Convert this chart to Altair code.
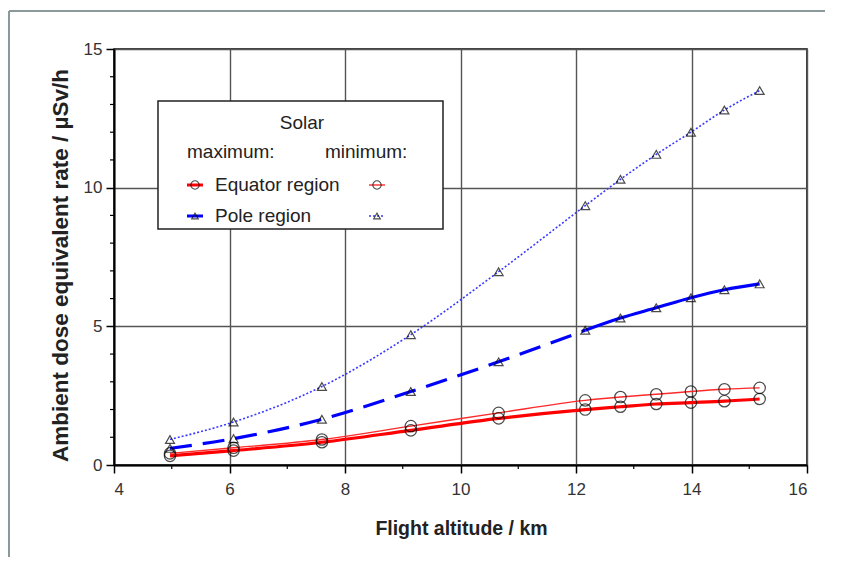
import altair as alt
import pandas as pd

# ---- data ----
alt_km = [4.97, 6.07, 7.6, 9.14, 10.66, 12.16, 12.77, 13.39, 13.99, 14.57, 15.18]
eq_max = [0.33, 0.52, 0.82, 1.25, 1.68, 2.0, 2.1, 2.2, 2.25, 2.3, 2.38]
eq_min = [0.42, 0.62, 0.92, 1.4, 1.88, 2.33, 2.45, 2.55, 2.65, 2.73, 2.78]
pole_max = [0.6, 0.95, 1.65, 2.65, 3.72, 4.86, 5.3, 5.67, 6.03, 6.32, 6.53]
pole_min = [0.92, 1.55, 2.83, 4.7, 6.97, 9.35, 10.3, 11.2, 12.0, 12.8, 13.5]
dashed_until = 12.16  # pole max curve is dashed up to here, solid beyond

x_major = [4, 6, 8, 10, 12, 14, 16]
x_minor = [5, 7, 9, 11, 13, 15]
y_major = [0, 5, 10, 15]
y_minor = [1, 2, 3, 4, 6, 7, 8, 9, 11, 12, 13, 14]

W, H = 693, 416
FONT = "Liberation Sans"

def frame(vals):
    return pd.DataFrame({"x": alt_km, "y": vals})

xs = alt.Scale(domain=[4, 16], nice=False)
ys = alt.Scale(domain=[0, 15], nice=False)

X = alt.X("x:Q", scale=xs,
          axis=alt.Axis(values=x_major, format="d", title="Flight altitude / km", grid=True,
                        titleX=347, titleY=63, titleBaseline="middle", titleFontSize=19.5))
Y = alt.Y("y:Q", scale=ys,
          axis=alt.Axis(values=y_major, format="d", title="Ambient dose equivalent rate / µSv/h",
                        grid=True, titleX=-54, titleY=216, titleAngle=-90,
                        titleBaseline="middle", titleFontSize=22.5))

def line(vals, color, width, dash=None):
    kw = dict(color=color, strokeWidth=width, interpolate="monotone")
    if dash:
        kw["strokeDash"] = dash
    return alt.Chart(frame(vals)).mark_line(**kw).encode(x=X, y=Y)

def pts(vals, shape, size):
    return alt.Chart(frame(vals)).mark_point(shape=shape, size=size, filled=False,
                                             color="black", strokeWidth=1.2).encode(x=X, y=Y)

pm = frame(pole_max)
pm_dash = pm[pm.x <= dashed_until]
pm_solid = pm[pm.x >= dashed_until]

layers = []
# minor ticks
layers.append(alt.Chart(pd.DataFrame({"x": x_minor})).mark_rule(color="black", strokeWidth=1.2)
              .encode(x=alt.X("x:Q", scale=xs), y=alt.value(H), y2=alt.value(H + 4)))
layers.append(alt.Chart(pd.DataFrame({"y": y_minor})).mark_rule(color="black", strokeWidth=1.2)
              .encode(y=alt.Y("y:Q", scale=ys), x=alt.value(-4), x2=alt.value(0)))

layers += [
    line(eq_min, "#ff2a2a", 1.4),
    line(eq_max, "#ff0000", 3.2),
    line(pole_min, "#3a3aff", 1.6, [2, 2]),
    alt.Chart(pm_dash).mark_line(color="#0000ff", strokeWidth=3.2, strokeDash=[22, 11],
                                 interpolate="monotone").encode(x=X, y=Y),
    alt.Chart(pm_solid).mark_line(color="#0000ff", strokeWidth=3.2,
                                  interpolate="monotone").encode(x=X, y=Y),
    pts(eq_min, "circle", 130),
    pts(eq_max, "circle", 130),
    pts(pole_min, "triangle-up", 80),
    pts(pole_max, "triangle-up", 80),
]

# ---- annotation legend box ----
one = alt.Data(values=[{"a": 1}])
layers.append(alt.Chart(one).mark_rect(fill="white", stroke="#222", strokeWidth=1.5)
              .encode(x=alt.value(44), x2=alt.value(329), y=alt.value(52), y2=alt.value(180)))

def txt(s, x, y, align="left", size=19):
    return alt.Chart(one).mark_text(text=s, align=align, baseline="middle", font=FONT,
                                    fontSize=size, color="#222").encode(x=alt.value(x), y=alt.value(y))

layers += [
    txt("Solar", 188, 74, "center"),
    txt("maximum:", 73, 103),
    txt("minimum:", 211, 103),
    txt("Equator region", 101, 136),
    txt("Pole region", 101, 167),
]

def leg_line(x, y, color, width, dash=None):
    kw = dict(color=color, strokeWidth=width)
    if dash:
        kw["strokeDash"] = dash
    return alt.Chart(one).mark_rule(**kw).encode(x=alt.value(x - 8), x2=alt.value(x + 8), y=alt.value(y))

def leg_pt(x, y, shape, size):
    return alt.Chart(one).mark_point(shape=shape, size=size, filled=False, color="black",
                                     strokeWidth=1.1).encode(x=alt.value(x), y=alt.value(y))

layers += [
    leg_line(81, 136, "#ff0000", 3), leg_pt(81, 136, "circle", 70),
    leg_line(81, 167, "#0000ff", 3), leg_pt(81, 167, "triangle-up", 45),
    leg_line(263, 136, "#ff2a2a", 1.4), leg_pt(263, 136, "circle", 70),
    leg_line(263, 167, "#3a3aff", 1.6, [2, 2]), leg_pt(263, 167, "triangle-up", 45),
]

# outer grey frame lines
layers.append(alt.Chart(one).mark_rule(color="#8a9a9a", strokeWidth=2)
              .encode(x=alt.value(-105), x2=alt.value(740), y=alt.value(-38)))
layers.append(alt.Chart(one).mark_rule(color="#8a9a9a", strokeWidth=2)
              .encode(x=alt.value(-105), y=alt.value(-38), y2=alt.value(540)))

chart = alt.layer(*layers).properties(
    width=W, height=H,
    padding={"left": 106, "top": 41, "right": 18, "bottom": 92},
    autosize=alt.AutoSizeParams(type="none"),
    background="white",
).configure_view(stroke="black", strokeWidth=1.5).configure_axis(
    domainColor="black", domainWidth=2, tickColor="black", tickWidth=1.5, tickSize=8,
    gridColor="#555", gridWidth=1.4, gridOpacity=1,
    labelFont=FONT, labelFontSize=17, labelColor="#333",
    titleFont=FONT, titleFontWeight="bold", titleColor="#222",
).configure_axisX(labelPadding=8).configure_axisY(labelPadding=4)

chart.save("out.html", embed_options={"renderer": "svg", "actions": False})
